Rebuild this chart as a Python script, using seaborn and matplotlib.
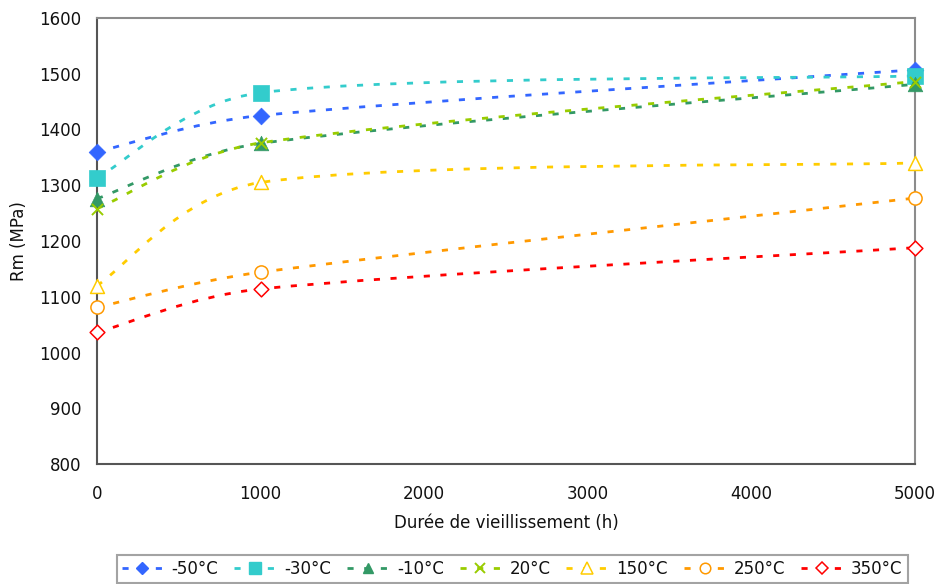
import numpy as np
import matplotlib
matplotlib.use("Agg")
import matplotlib.pyplot as plt
from matplotlib.path import Path
from matplotlib.patches import PathPatch
from matplotlib.lines import Line2D
import seaborn as sns
import pandas as pd

# data
hours = [0, 1000, 5000]
labels = ['-50°C', '-30°C', '-10°C', '20°C', '150°C', '250°C', '350°C']
rm_m50 = [1360, 1425, 1507]
rm_m30 = [1313, 1466, 1496]
rm_m10 = [1276, 1375, 1481]
rm_20 = [1258, 1376, 1486]
rm_150 = [1120, 1305, 1340]
rm_250 = [1081, 1144, 1277]
rm_350 = [1036, 1114, 1188]
series = [rm_m50, rm_m30, rm_m10, rm_20, rm_150, rm_250, rm_350]

colors = ['#3366ff', '#33cccc', '#339966', '#99cc00', '#ffcc00', '#ff9900', '#ff0000']
markers = ['D', 's', '^', 'x', '^', 'o', 'D']
filled = [True, True, True, True, False, False, False]
msizes = [8.5, 11, 10.5, 8, 10, 9.5, 7.5]

sns.set_theme(style='white')
plt.rcParams['font.family'] = ['DejaVu Sans']

W, H = 938, 584
fig = plt.figure(figsize=(W / 100, H / 100), dpi=100)
ax = fig.add_axes([97 / W, 1 - 464 / H, (915 - 97) / W, (464 - 18) / H])
ax.set_xlim(0, 5000)
ax.set_ylim(800, 1600)

ls = (0, (2.2, 3.8))
# pixel scale used for the smoothing (affine, so the curve is the same in data units)
sx = (915 - 97) / 5000
sy = (464 - 18) / 800


def smooth_path(xs, ys):
    # Excel-like smoothed line: Catmull-Rom bezier, control arms capped by segment length
    pts = np.column_stack([np.array(xs) * sx, np.array(ys) * sy]).astype(float)
    n = len(pts)
    verts = [pts[0]]
    codes = [Path.MOVETO]
    for i in range(n - 1):
        p0 = pts[i - 1] if i > 0 else pts[i]
        p1 = pts[i]
        p2 = pts[i + 1]
        p3 = pts[i + 2] if i + 2 < n else pts[i + 1]
        seg = np.linalg.norm(p2 - p1)
        a = (p2 - p0) / 6
        b = (p3 - p1) / 6
        cap = seg * 0.42
        if np.linalg.norm(a) > cap:
            a = a / np.linalg.norm(a) * cap
        if np.linalg.norm(b) > cap:
            b = b / np.linalg.norm(b) * cap
        verts += [p1 + a, p2 - b, p2]
        codes += [Path.CURVE4] * 3
    verts = np.array(verts) / np.array([sx, sy])
    return Path(verts, codes)


rows = []
for lab, vals in zip(labels, series):
    for h, v in zip(hours, vals):
        rows.append({'h': h, 'rm': v, 'temp': lab})
df = pd.DataFrame(rows)

for i, (lab, vals) in enumerate(zip(labels, series)):
    patch = PathPatch(smooth_path(hours, vals), fill=False, edgecolor=colors[i],
                      lw=2.0, linestyle=ls, zorder=2, capstyle='butt')
    ax.add_patch(patch)
    sub = df[df['temp'] == lab]
    if markers[i] == 'x':
        sns.scatterplot(data=sub, x='h', y='rm', marker='x', color=colors[i],
                        s=msizes[i] ** 2, linewidth=1.4, ax=ax, zorder=3,
                        legend=False, clip_on=False)
    elif filled[i]:
        sns.scatterplot(data=sub, x='h', y='rm', marker=markers[i], color=colors[i],
                        s=msizes[i] ** 2, edgecolor=colors[i], linewidth=0.5, ax=ax,
                        zorder=3, legend=False, clip_on=False)
    else:
        sns.scatterplot(data=sub, x='h', y='rm', marker=markers[i], facecolor='white',
                        s=msizes[i] ** 2, edgecolor=colors[i], linewidth=1.1,
                        ax=ax, zorder=3, legend=False, clip_on=False)

ax.set_xticks([0, 1000, 2000, 3000, 4000, 5000])
ax.set_yticks(range(800, 1601, 100))
ax.tick_params(axis='both', labelsize=12, colors='#444444', labelcolor='#111111', width=1)
ax.tick_params(axis='y', direction='inout', length=6, pad=8)
ax.tick_params(axis='x', direction='inout', length=8, pad=11)
for s in ax.spines.values():
    s.set_color('#8c8c8c')
    s.set_linewidth(1.5)
ax.spines['left'].set_color('#555555')
ax.spines['bottom'].set_color('#555555')
ax.set_xlabel('Durée de vieillissement (h)', fontsize=12, labelpad=8, color='#111111')
ax.set_ylabel('Rm (MPa)', fontsize=12, labelpad=8, color='#111111')

handles = []
for i, lab in enumerate(labels):
    if markers[i] == 'x':
        h = Line2D([], [], color=colors[i], ls=ls, lw=2.0, marker='x', ms=7, mew=1.4)
    elif filled[i]:
        h = Line2D([], [], color=colors[i], ls=ls, lw=2.0, marker=markers[i],
                   ms=msizes[i] * 0.75, mfc=colors[i], mec=colors[i])
    else:
        h = Line2D([], [], color=colors[i], ls=ls, lw=2.0, marker=markers[i],
                   ms=msizes[i] * 0.8, mfc='white', mec=colors[i], mew=1.1)
    handles.append(h)

leg = fig.legend(handles, labels, loc='lower center', bbox_to_anchor=(512 / W, 1 / H),
                 ncol=7, fontsize=12, frameon=True, fancybox=False, handlelength=2.5,
                 columnspacing=0.95, handletextpad=0.5, borderpad=0.3, borderaxespad=0)
leg.get_frame().set_edgecolor('#8c8c8c')
leg.get_frame().set_linewidth(1.5)
for t in leg.get_texts():
    t.set_color('#111111')

fig.savefig('out.png', dpi=100)
